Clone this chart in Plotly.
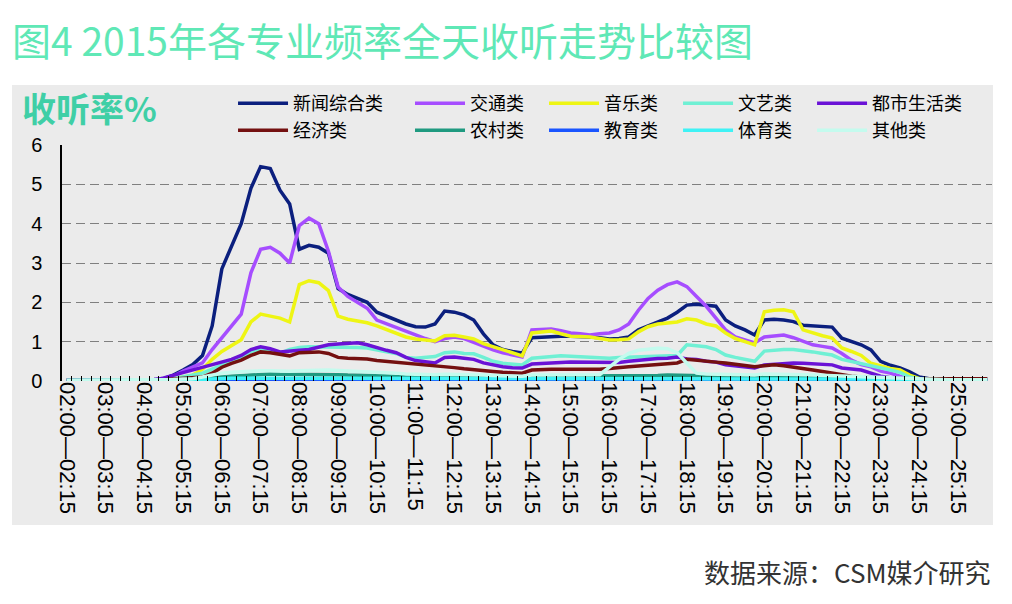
import plotly.graph_objects as go

# 15-minute slots 02:00 ... 25:45
slots = []
for h in range(2, 26):
    for m in (0, 15, 30, 45):
        h2, m2 = (h, m + 15) if m < 45 else (h + 1, 0)
        slots.append(f"{h:02d}:{m:02d}—{h2:02d}:{m2:02d}")
tick_text = [s if s[3:5] == "00" else "" for s in slots]

news = [0.03, 0.03, 0.03, 0.03, 0.03, 0.03, 0.03, 0.03, 0.03, 0.04,
        0.06, 0.15, 0.28, 0.42, 0.65, 1.4, 2.85, 3.4, 4.0, 4.9,
        5.45, 5.4, 4.85, 4.5, 3.35, 3.45, 3.4, 3.25, 2.35, 2.2,
        2.1, 2.0, 1.75, 1.65, 1.55, 1.45, 1.38, 1.37, 1.45, 1.78,
        1.75, 1.68, 1.55, 1.2, 0.92, 0.8, 0.75, 0.71, 1.1, 1.12,
        1.13, 1.14, 1.14, 1.14, 1.12, 1.1, 1.07, 1.08, 1.12, 1.3,
        1.4, 1.5, 1.6, 1.75, 1.93, 1.95, 1.93, 1.9, 1.55, 1.4,
        1.3, 1.17, 1.55, 1.57, 1.55, 1.51, 1.42, 1.4, 1.38, 1.37,
        1.09, 1.0, 0.92, 0.79, 0.5, 0.4, 0.33, 0.23, 0.1, 0.06,
        0.05, 0.05, 0.05, 0.05, 0.05, 0.05]
traffic = [0.03, 0.03, 0.03, 0.03, 0.03, 0.03, 0.03, 0.03, 0.03, 0.04,
           0.06, 0.12, 0.25, 0.35, 0.46, 0.8, 1.1, 1.37, 1.7, 2.75,
           3.35, 3.4, 3.25, 3.0, 3.95, 4.14, 4.0, 3.3, 2.39, 2.15,
           2.0, 1.85, 1.55, 1.45, 1.35, 1.25, 1.17, 1.08, 1.0, 1.08,
           1.12, 1.08, 0.98, 0.9, 0.79, 0.72, 0.66, 0.61, 1.3, 1.31,
           1.32, 1.28, 1.22, 1.2, 1.17, 1.2, 1.22, 1.3, 1.45, 1.8,
           2.1, 2.31, 2.45, 2.52, 2.4, 2.15, 1.9, 1.6, 1.3, 1.12,
           1.05, 0.97, 1.12, 1.15, 1.17, 1.1, 1.0, 0.92, 0.88, 0.84,
           0.7, 0.53, 0.42, 0.36, 0.25, 0.2, 0.12, 0.06, 0.05, 0.05,
           0.05, 0.05, 0.05, 0.05, 0.05, 0.05]
music = [0.02, 0.02, 0.02, 0.02, 0.02, 0.02, 0.02, 0.02, 0.02, 0.02,
         0.04, 0.06, 0.1, 0.15, 0.3, 0.55, 0.75, 0.9, 1.05, 1.5,
         1.7, 1.65, 1.6, 1.5, 2.45, 2.55, 2.5, 2.3, 1.65, 1.57,
         1.52, 1.48, 1.4, 1.3, 1.22, 1.12, 1.07, 1.04, 1.02, 1.15,
         1.16, 1.12, 1.07, 0.95, 0.87, 0.78, 0.7, 0.64, 1.22, 1.25,
         1.27, 1.2, 1.14, 1.13, 1.12, 1.08, 1.04, 1.05, 1.07, 1.25,
         1.38, 1.45, 1.48, 1.5, 1.58, 1.55, 1.45, 1.4, 1.22, 1.08,
         1.0, 0.92, 1.76, 1.8, 1.81, 1.76, 1.3, 1.22, 1.15, 1.09,
         0.84, 0.75, 0.65, 0.45, 0.38, 0.32, 0.28, 0.15, 0.06, 0.06,
         0.06, 0.06, 0.06, 0.06, 0.06, 0.06]
arts = [0.02, 0.02, 0.02, 0.02, 0.02, 0.02, 0.02, 0.02, 0.02, 0.02,
        0.04, 0.06, 0.1, 0.15, 0.2, 0.3, 0.4, 0.5, 0.6, 0.75,
        0.8, 0.75, 0.7, 0.8, 0.85, 0.87, 0.87, 0.87, 0.87, 0.86,
        0.85, 0.84, 0.78, 0.74, 0.7, 0.6, 0.58, 0.6, 0.62, 0.72,
        0.74, 0.7, 0.69, 0.6, 0.5, 0.45, 0.42, 0.41, 0.58, 0.6,
        0.62, 0.64, 0.63, 0.62, 0.61, 0.6, 0.58, 0.6, 0.61, 0.61,
        0.62, 0.63, 0.63, 0.65, 0.92, 0.9, 0.87, 0.8, 0.66, 0.6,
        0.55, 0.5, 0.76, 0.79, 0.8, 0.8, 0.78, 0.74, 0.7, 0.66,
        0.55, 0.5, 0.45, 0.4, 0.33, 0.28, 0.22, 0.1, 0.05, 0.05,
        0.05, 0.05, 0.05, 0.05, 0.05, 0.05]
city = [0.02, 0.02, 0.02, 0.02, 0.02, 0.02, 0.02, 0.02, 0.02, 0.02,
        0.08, 0.15, 0.22, 0.28, 0.35, 0.42, 0.48, 0.55, 0.65, 0.8,
        0.87, 0.82, 0.74, 0.75, 0.78, 0.8, 0.85, 0.92, 0.94, 0.95,
        0.97, 0.92, 0.84, 0.78, 0.72, 0.6, 0.52, 0.48, 0.46, 0.6,
        0.61, 0.58, 0.55, 0.46, 0.4, 0.36, 0.34, 0.33, 0.43, 0.45,
        0.46, 0.47, 0.48, 0.48, 0.48, 0.47, 0.46, 0.47, 0.5, 0.53,
        0.55, 0.57, 0.58, 0.61, 0.56, 0.55, 0.5, 0.48, 0.41, 0.38,
        0.35, 0.33, 0.41, 0.43, 0.45, 0.46, 0.45, 0.43, 0.42, 0.41,
        0.33, 0.3, 0.28, 0.2, 0.12, 0.08, 0.06, 0.06, 0.06, 0.06,
        0.06, 0.06, 0.06, 0.06, 0.06, 0.06]
economy = [0.02, 0.02, 0.02, 0.02, 0.02, 0.02, 0.02, 0.02, 0.02, 0.02,
           0.03, 0.05, 0.07, 0.08, 0.1, 0.2, 0.35, 0.45, 0.53, 0.65,
           0.74, 0.72, 0.68, 0.64, 0.72, 0.74, 0.74, 0.7, 0.6, 0.58,
           0.58, 0.56, 0.52, 0.5, 0.48, 0.46, 0.44, 0.4, 0.38, 0.36,
           0.34, 0.31, 0.28, 0.26, 0.24, 0.22, 0.2, 0.2, 0.28, 0.3,
           0.3, 0.3, 0.3, 0.29, 0.28, 0.3, 0.32, 0.35, 0.36, 0.38,
           0.4, 0.41, 0.44, 0.46, 0.55, 0.52, 0.5, 0.48, 0.46, 0.42,
           0.38, 0.36, 0.39, 0.41, 0.39, 0.36, 0.33, 0.28, 0.24, 0.2,
           0.15, 0.12, 0.1, 0.08, 0.06, 0.06, 0.06, 0.06, 0.06, 0.06,
           0.06, 0.06, 0.06, 0.06, 0.06, 0.06]
rural = [0.01, 0.01, 0.01, 0.01, 0.01, 0.01, 0.01, 0.01, 0.01, 0.01,
         0.02, 0.03, 0.04, 0.05, 0.06, 0.08, 0.1, 0.12, 0.14, 0.16,
         0.18, 0.18, 0.17, 0.17, 0.18, 0.18, 0.18, 0.17, 0.16, 0.15,
         0.15, 0.14, 0.14, 0.13, 0.13, 0.12, 0.12, 0.12, 0.12, 0.13,
         0.13, 0.12, 0.12, 0.11, 0.1, 0.1, 0.09, 0.09, 0.12, 0.12,
         0.12, 0.12, 0.12, 0.12, 0.12, 0.12, 0.12, 0.12, 0.13, 0.13,
         0.14, 0.14, 0.15, 0.15, 0.15, 0.14, 0.14, 0.13, 0.12, 0.12,
         0.11, 0.1, 0.12, 0.12, 0.12, 0.11, 0.1, 0.1, 0.09, 0.08,
         0.07, 0.06, 0.05, 0.04, 0.03, 0.03, 0.02, 0.02, 0.02, 0.02,
         0.01, 0.01, 0.01, 0.01, 0.01, 0.01]
education = [0.01, 0.01, 0.01, 0.01, 0.01, 0.01, 0.01, 0.01, 0.01, 0.01,
             0.01, 0.01, 0.01, 0.01, 0.02, 0.02, 0.02, 0.02, 0.02, 0.02,
             0.02, 0.02, 0.02, 0.02, 0.02, 0.02, 0.02, 0.02, 0.02, 0.02,
             0.02, 0.02, 0.02, 0.02, 0.02, 0.02, 0.02, 0.02, 0.02, 0.02,
             0.02, 0.02, 0.02, 0.02, 0.02, 0.02, 0.02, 0.02, 0.03, 0.03,
             0.03, 0.03, 0.03, 0.03, 0.03, 0.03, 0.03, 0.04, 0.04, 0.05,
             0.05, 0.05, 0.05, 0.05, 0.04, 0.03, 0.03, 0.03, 0.03, 0.03,
             0.03, 0.03, 0.03, 0.03, 0.03, 0.03, 0.03, 0.02, 0.02, 0.02,
             0.02, 0.02, 0.02, 0.02, 0.01, 0.01, 0.01, 0.01, 0.01, 0.01,
             0.01, 0.01, 0.01, 0.01, 0.01, 0.01]
sports = [0.01, 0.01, 0.01, 0.01, 0.01, 0.01, 0.01, 0.01, 0.02, 0.02,
          0.02, 0.02, 0.02, 0.02, 0.03, 0.05, 0.07, 0.07, 0.07, 0.07,
          0.07, 0.07, 0.07, 0.07, 0.07, 0.07, 0.07, 0.07, 0.07, 0.07,
          0.06, 0.06, 0.06, 0.06, 0.06, 0.06, 0.06, 0.06, 0.06, 0.06,
          0.06, 0.06, 0.06, 0.06, 0.06, 0.05, 0.05, 0.05, 0.06, 0.06,
          0.06, 0.06, 0.06, 0.06, 0.06, 0.06, 0.06, 0.06, 0.06, 0.06,
          0.06, 0.06, 0.06, 0.06, 0.06, 0.06, 0.06, 0.06, 0.06, 0.06,
          0.06, 0.06, 0.06, 0.06, 0.06, 0.06, 0.06, 0.06, 0.06, 0.06,
          0.05, 0.05, 0.05, 0.04, 0.04, 0.04, 0.03, 0.03, 0.03, 0.03,
          0.03, 0.03, 0.03, 0.03, 0.03, 0.03]
other = [0.02, 0.02, 0.02, 0.02, 0.02, 0.02, 0.02, 0.02, 0.02, 0.02,
         0.03, 0.04, 0.05, 0.06, 0.1, 0.15, 0.2, 0.22, 0.24, 0.25,
         0.26, 0.26, 0.25, 0.25, 0.26, 0.27, 0.28, 0.28, 0.27, 0.26,
         0.25, 0.25, 0.24, 0.22, 0.2, 0.18, 0.17, 0.16, 0.16, 0.17,
         0.17, 0.16, 0.16, 0.15, 0.14, 0.13, 0.12, 0.12, 0.15, 0.15,
         0.15, 0.15, 0.15, 0.15, 0.15, 0.16, 0.35, 0.55, 0.7, 0.78,
         0.81, 0.83, 0.82, 0.72, 0.45, 0.2, 0.18, 0.17, 0.17, 0.16,
         0.16, 0.15, 0.18, 0.18, 0.18, 0.17, 0.16, 0.15, 0.14, 0.13,
         0.12, 0.11, 0.1, 0.09, 0.08, 0.07, 0.06, 0.05, 0.04, 0.03,
         0.03, 0.03, 0.03, 0.03, 0.03, 0.03]

series_names = ["新闻综合类", "交通类", "音乐类", "文艺类", "都市生活类",
                "经济类", "农村类", "教育类", "体育类", "其他类"]
series_values = [news, traffic, music, arts, city,
                 economy, rural, education, sports, other]
series_colors = ["#0b1f7e", "#a64dff", "#eef514", "#6ff0d4", "#6a12d6",
                 "#741010", "#1f9a80", "#1a55ff", "#3ff2f5", "#c4fbee"]

CJK = "Noto Sans CJK SC"
# one legend per entry so the 5x2 grid lines up like the original
leg_cols = [0.1839, 0.3742, 0.5183, 0.6624, 0.8065]
leg_rows = [1.254, 1.140]

fig = go.Figure()
legends = {}
for i, (name, vals, color) in enumerate(zip(series_names, series_values, series_colors)):
    key = "legend" if i == 0 else f"legend{i + 1}"
    fig.add_trace(go.Scatter(x=slots, y=vals, name=name, mode="lines",
                             line=dict(color=color, width=3.5), legend=key))
    legends[key] = dict(x=leg_cols[i % 5], y=leg_rows[i // 5],
                        xanchor="left", yanchor="top", orientation="v",
                        bgcolor="rgba(0,0,0,0)", itemwidth=50,
                        font=dict(family=CJK, size=18, color="black"))

fig.update_layout(
    width=1012, height=604,
    margin=dict(l=62, r=20, t=145, b=223),
    paper_bgcolor="white", plot_bgcolor="rgba(0,0,0,0)",
    showlegend=True,
    **legends,
    xaxis=dict(type="category", range=[-0.5, len(slots) - 0.5],
               tickmode="array", tickvals=slots, ticktext=tick_text,
               tickson="boundaries", ticks="inside", ticklen=5, tickcolor="black",
               tickangle=90, showgrid=False, zeroline=False, showline=False,
               tickfont=dict(family="Liberation Sans", size=22, color="black")),
    yaxis=dict(range=[0, 6], dtick=1, showgrid=True, gridcolor="#7f7f7f",
               griddash="9px,5px", gridwidth=1, zeroline=False,
               showline=True, linecolor="black", linewidth=1.5,
               ticks="", ticklabelstandoff=14,
               tickfont=dict(family="Liberation Sans", size=20, color="black")),
    shapes=[dict(type="rect", xref="paper", yref="paper", layer="below",
                 x0=-0.0538, x1=1.0011, y0=-0.610, y1=1.254,
                 fillcolor="#ebebeb", line=dict(width=0))],
    annotations=[
        dict(text="图4 2015年各专业频率全天收听走势比较图", xref="paper", yref="paper",
             x=-0.0559, y=1.449, xanchor="left", yanchor="middle", showarrow=False,
             font=dict(family=CJK, size=39, color="#5fe8b6")),
        dict(text="<b>收听率%</b>", xref="paper", yref="paper",
             x=-0.0452, y=1.157, xanchor="left", yanchor="middle", showarrow=False,
             font=dict(family=CJK, size=34, color="#3fcfa6")),
        dict(text="数据来源：CSM媒介研究", xref="paper", yref="paper",
             x=1.001, y=-0.809, xanchor="right", yanchor="middle", showarrow=False,
             font=dict(family=CJK, size=26, color="#333333")),
    ],
)

fig.write_html("out.html", config={"displayModeBar": False},
               post_script="document.body.style.margin='0';")
